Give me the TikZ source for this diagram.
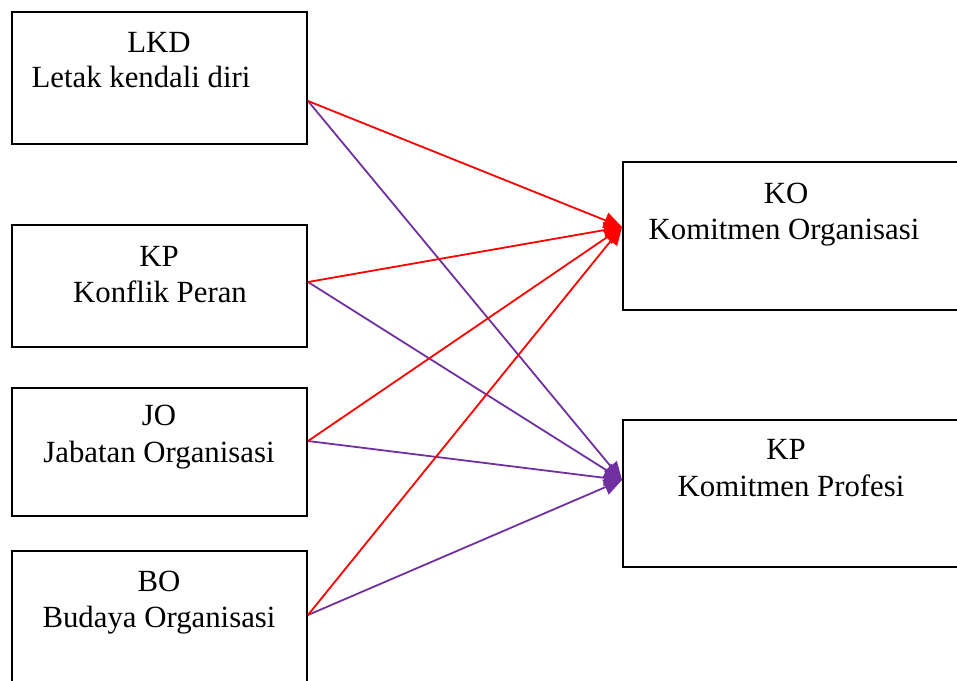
\documentclass[tikz,border=0pt]{standalone}
\usepackage{fontspec}
\setmainfont{Liberation Serif}
\usetikzlibrary{arrows.meta}
\definecolor{ungu}{RGB}{112,48,160}

\begin{document}
\begin{tikzpicture}[x=1pt,y=-1pt,
  box/.style={draw=black,line width=2pt,minimum width=295pt,inner sep=0pt},
  lbl/.style={anchor=base,inner sep=0pt,font=\fontsize{30.8}{36}\selectfont},
  keko/.style={red,line width=1.8pt,-{Triangle[length=18pt,width=16pt]}},
  kepro/.style={ungu,line width=1.8pt,-{Triangle[length=18pt,width=16pt]}}]
\useasboundingbox (0,0) rectangle (957,680);

% kotak kiri
\node[box,minimum height=132pt] (lkd) at (159.5,78) {};
\node[box,minimum height=122pt] (kp) at (159.5,286) {};
\node[box,minimum height=128pt] (jo) at (159.5,452) {};
\node[box,minimum height=150pt] (bo) at (159.5,626) {};

% kotak kanan
\node[box,minimum width=342pt,minimum height=148pt] (ko) at (794,236) {};
\node[box,minimum width=342pt,minimum height=147pt] (kpro) at (794,493.5) {};

% teks
\node[lbl] (lkd-a) at (159,52) {LKD};
\node[lbl] (lkd-b) at (141,87) {Letak kendali diri};
\node[lbl] (kp-a) at (159,266) {KP};
\node[lbl] (kp-b) at (160,302) {Konflik Peran};
\node[lbl] (jo-a) at (159,425) {JO};
\node[lbl] (jo-b) at (159,462) {Jabatan Organisasi};
\node[lbl] (bo-a) at (159,591) {BO};
\node[lbl] (bo-b) at (159,627) {Budaya Organisasi};
\node[lbl] (ko-a) at (786,203) {KO};
\node[lbl] (ko-b) at (784,239) {Komitmen Organisasi};
\node[lbl] (kpro-a) at (786,459) {KP};
\node[lbl] (kpro-b) at (791,496) {Komitmen Profesi};

% titik keluar dan masuk
\coordinate (lkd-out) at (lkd.east |- 0,101);
\coordinate (kp-out) at (kp.east |- 0,282);
\coordinate (jo-out) at (jo.east |- 0,441);
\coordinate (bo-out) at (bo.east |- 0,615);
\coordinate (ko-in) at (ko.west |- 0,227);
\coordinate (kpro-in) at (kpro.west |- 0,480);

\foreach \src in {lkd,kp,jo,bo}{
  \draw[kepro] (\src-out) -- (kpro-in);
  \draw[keko] (\src-out) -- (ko-in);
}
\end{tikzpicture}
\end{document}
